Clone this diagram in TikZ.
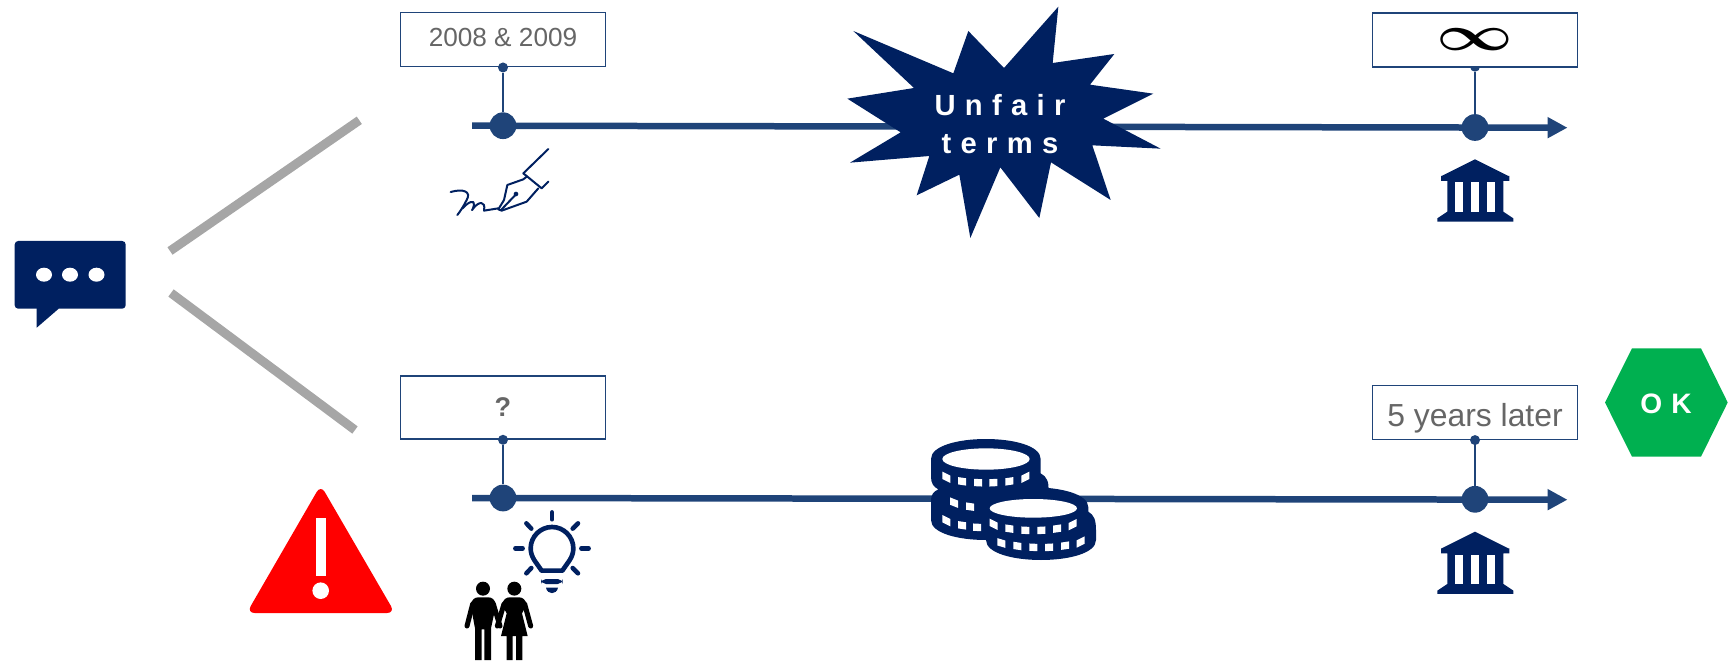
\documentclass[tikz,border=0pt]{standalone}
\usepackage{fontspec}
\setmainfont{Liberation Sans}
\usepackage{xcolor}
\usepackage{tikz}
\usetikzlibrary{positioning, arrows.meta, calc}
\definecolor{navy}{HTML}{002060}
\definecolor{steel}{HTML}{1F4479}
\definecolor{textgray}{HTML}{666666}
\definecolor{splitgray}{HTML}{A6A6A6}
\definecolor{okgreen}{HTML}{00B050}
\newcommand{\spaced}[1]{\addfontfeature{LetterSpace=#1}}

\begin{document}
\begin{tikzpicture}[
    x=0.02cm, y=-0.02cm,
    datebox/.style={draw=steel, line width=0.03cm, fill=white, minimum width=4.1cm,
                    minimum height=1.08cm, inner sep=0pt, text=textgray,
                    font=\fontsize{14.9}{16}\selectfont},
    bigdot/.style={circle, fill=steel, minimum size=0.535cm, inner sep=0pt},
    smalldot/.style={circle, fill=steel, minimum size=0.2cm, inner sep=0pt},
    timeline/.style={draw=steel, line width=0.13cm, -{Triangle[length=0.4cm,width=0.4cm]}},
    stem/.style={draw=steel, line width=0.04cm},
    split/.style={draw=splitgray, line width=0.18cm},
    inkline/.style={draw=navy, line width=0.04cm, line join=round, line cap=round},
    bulbline/.style={draw=navy, line width=0.093cm, line cap=round, line join=round},
    limb/.style={draw=black, line width=0.1cm, line cap=round},
    bank/.pic={
        \fill[navy] (345,478) -- (445,528) -- (448,528) -- (448,543) -- (430,543) -- (430,635)
            -- (460,655) -- (460,665) -- (232,665) -- (232,655) -- (262,635) -- (262,543)
            -- (243,543) -- (243,528) -- (245,528) -- cycle;
        \foreach \gap in {285,333,382} {
            \fill[white] (\gap,547) rectangle ++(24,88);
        }
    },
]
\useasboundingbox (0,0) rectangle (1734,662);

% Speech bubble
\fill[navy, rounded corners=0.07cm] (14.7,241) rectangle (125.7,308.7);
\fill[navy] (36.7,305) -- (36.7,327.7) -- (58.7,308.7) -- (58.7,305) -- cycle;
\foreach \x in {44,70,96.5} {
    \fill[white] (\x,274.7) ellipse [x radius=8, y radius=7];
}

% Split lines
\coordinate (splitA) at (170,251);
\coordinate (splitB) at (359.3,120.3);
\coordinate (splitC) at (171,293);
\coordinate (splitD) at (355,430);
\draw[split] (splitA) -- (splitB);
\draw[split] (splitC) -- (splitD);

% Warning triangle
\fill[red, rounded corners=0.16cm] (320.7,485) -- (395,613) -- (246.7,613) -- cycle;
\fill[white] (315.7,518.3) rectangle (325.7,576);
\fill[white] (320.7,590.7) circle [radius=8.3];

% Upper time line
\coordinate (startA) at (472,125.7);
\coordinate (endA) at (1567.5,127.7);
\draw[timeline] (startA) -- (endA);
\node[bigdot] (dotA) at (503,125.7) {};
\node[bigdot] (dotB) at (1475,127.5) {};
\node[smalldot] (pinB) at (1475,66.7) {};
\draw[stem] (pinB) -- (dotB);
\node[datebox, above=0.89cm of dotA, text height=0.254cm, text depth=0pt] (signed) {2008 \& 2009};
\node[datebox, above=0.92cm of dotB, text=black] (forever)
     {\scalebox{3.8}[2.8]{\fontsize{10}{10}\selectfont\boldmath$\infty$}};
\node[smalldot] (pinA) at (signed.south) {};
\draw[stem] (pinA) -- (dotA);

% Lower time line
\coordinate (startC) at (472,498);
\coordinate (endC) at (1567.5,499.7);
\draw[timeline] (startC) -- (endC);
\node[bigdot] (dotC) at (503,498) {};
\node[bigdot] (dotD) at (1475,499.3) {};
\node[datebox, minimum height=1.26cm, above=0.89cm of dotC,
      font=\fontsize{15.4}{16}\selectfont\bfseries] (unknown) {?};
\node[datebox, above=0.91cm of dotD, text height=0.556cm, text depth=0pt,
      font=\fontsize{18.15}{20}\selectfont] (later) {5 years later};
\node[smalldot] (pinC) at (unknown.south) {};
\node[smalldot] (pinD) at (later.south) {};
\draw[stem] (pinC) -- (dotC);
\draw[stem] (pinD) -- (dotD);

% Burst
\begin{scope}[shift={(820,0)}, scale=1/3]
    \fill[navy] (100,93) -- (400,220) -- (445,93) -- (552,204) -- (715,20) -- (698,189)
        -- (883,162) -- (810,254) -- (1000,281) -- (850,356) -- (1022,446) -- (817,436)
        -- (872,600) -- (693,487) -- (658,654) -- (541,502) -- (451,714) -- (418,524)
        -- (290,586) -- (328,468) -- (90,488) -- (242,397) -- (82,296) -- (282,264) -- cycle;
\end{scope}
\node[text=white, font=\fontsize{16.6}{22}\selectfont\bfseries\spaced{32}, align=center]
     (unfair) at (1000,124) {Unfair\\terms};

% Bank icons
\pic[shift={(1360,0)}, scale=1/3] (bankA) {bank};
\pic[shift={(1360,372.3)}, scale=1/3] (bankB) {bank};

% Pen and signature
\begin{scope}[shift={(380,0)}, scale=1/3]
    \draw[inkline] (212,576) .. controls (250,565) and (275,575) .. (260,600)
        .. controls (250,620) and (240,635) .. (232,645);
    \draw[inkline] (248,625) .. controls (265,605) and (285,598) .. (282,615)
        .. controls (278,632) and (272,635) .. (280,625)
        .. controls (295,605) and (318,600) .. (312,632) -- (355,625);
    \draw[inkline] (355,628) -- (372,600) -- (382,555) -- (430,538) -- (440,530);
    \draw[inkline] (475,565) -- (440,605) -- (365,632) -- (355,628);
    \draw[inkline] (365,628) -- (408,583);
    \draw[inkline] (430,520) -- (485,565) -- (505,545);
    \draw[inkline] (430,520) -- (505,447);
    \fill[navy] (408,582) circle [radius=7];
\end{scope}

% Coins
\begin{scope}[shift={(910,420)}, scale=1/3]
    \fill[navy] (63,117) .. controls (63,37) and (392,37) .. (392,117) -- (392,160)
        .. controls (410,170) and (418,185) .. (415,215) -- (415,300) -- (392,300)
        .. controls (392,380) and (63,380) .. (63,300) -- (63,240)
        .. controls (63,225) and (70,215) .. (85,208) .. controls (70,200) and (63,190) .. (63,170) -- cycle;
    \fill[navy] (205,262) .. controls (205,182) and (535,182) .. (535,262) -- (535,275)
        .. controls (552,285) and (558,300) .. (558,330) -- (558,360)
        .. controls (558,440) and (228,440) .. (228,360) -- cycle;
    \fill[white] (228,117) ellipse [x radius=131, y radius=32];
    \fill[white] (370,265) ellipse [x radius=131, y radius=28];
    \foreach \x/\y/\s in {109/172/-0.5,156/184/-0.15,204/188/-0.05,250/188/0.05,298/184/0.15,346/172/0.5,
                          132/248/-0.4,180/260/-0.15,109/302/-0.5,156/316/-0.15,201/322/-0.05,
                          251/313/-0.5,298/326/-0.15,346/331/-0.05,394/331/0.05,441/326/0.15,488/314/0.5,
                          274/369/-0.3,322/378/-0.15,370/382/-0.05,417/382/0.05,465/377/0.15,512/366/0.5} {
        \fill[white, shift={(\x,\y)}, yslant=\s] (-12,-11) rectangle (12,11);
    }
\end{scope}

% Light bulb
\begin{scope}[shift={(440,480)}, scale=1/3]
    \draw[bulbline] (305,272) -- (367,272) -- (388,242) .. controls (396,230) and (400,218) .. (400,205)
        .. controls (400,170) and (371,141) .. (336,141) .. controls (301,141) and (272,170) .. (272,205)
        .. controls (272,218) and (276,230) .. (284,242) -- cycle;
    \foreach \xa/\ya/\xb/\yb in {336/97/336/118, 259/130/274/146, 414/130/398/146, 226/205/248/205,
                                 424/205/446/205, 259/280/274/264, 414/280/398/264} {
        \draw[bulbline, line width=0.09cm] (\xa,\ya) -- (\xb,\yb);
    }
    \fill[navy, rounded corners=0.1cm] (303,297) rectangle (368,312);
    \fill[navy] (318,323) -- (354,323) .. controls (350,345) and (322,345) .. (318,323) -- cycle;
\end{scope}

% Couple
\begin{scope}[shift={(440,480)}, scale=1/3]
    \fill[black] (129,326) circle [radius=21];
    \fill[black] (223,326) circle [radius=21];
    \fill[black] (92,375) .. controls (95,358) and (105,352) .. (115,352) -- (145,352)
        .. controls (155,352) and (165,358) .. (168,375) -- (153,445) -- (153,540) -- (133,540) -- (133,448)
        -- (125,448) -- (125,540) -- (105,540) -- (105,445) -- cycle;
    \fill[black] (186,375) .. controls (189,358) and (199,352) .. (209,352) -- (237,352)
        .. controls (247,352) and (257,358) .. (260,375) -- (246,400) -- (263,468) -- (247,468) -- (247,540) -- (228,540) -- (228,468)
        -- (218,468) -- (218,540) -- (200,540) -- (200,468) -- (183,468) -- (200,400) -- cycle;
    \draw[limb] (98,372) -- (81,438);
    \draw[limb] (160,372) -- (180,438);
    \draw[limb] (192,372) -- (172,438);
    \draw[limb] (254,372) -- (272,438);
\end{scope}

% OK badge
\fill[okgreen] (1605,402.5) -- (1632,348.3) -- (1701,348.3) -- (1727.7,402.5) -- (1701,456.7) -- (1632,456.7) -- cycle;
\node[text=white, font=\fontsize{16}{18}\selectfont\bfseries\spaced{32}] (okay) at (1666,404) {OK};

\end{tikzpicture}
\end{document}
